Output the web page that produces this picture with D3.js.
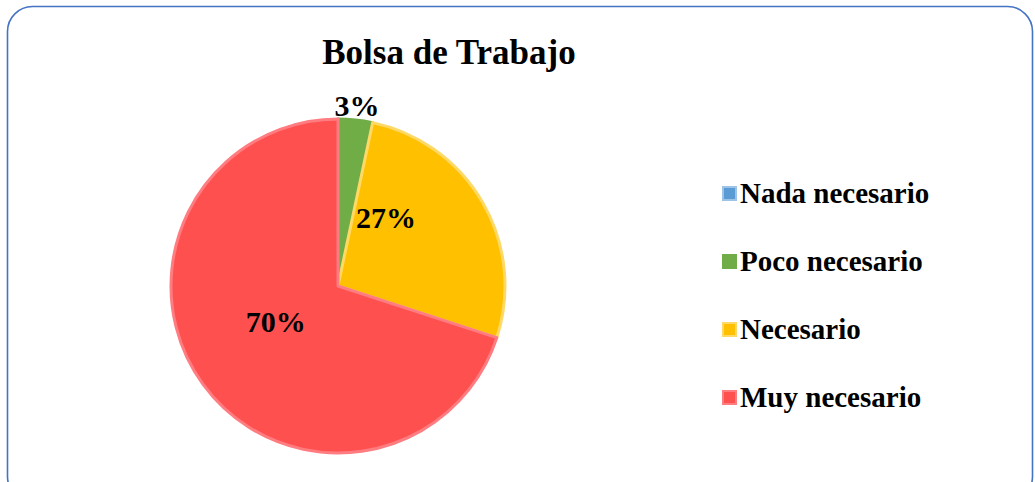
<!DOCTYPE html>
<html>
<head>
<meta charset="utf-8">
<script src="https://cdn.jsdelivr.net/npm/d3@7/dist/d3.min.js"></script>
<style>
  html, body { margin: 0; padding: 0; background: #fff; }
  svg { display: block; }
  text { font-family: "Liberation Serif", "Times New Roman", serif; font-weight: bold; fill: #000; }
</style>
</head>
<body>
<svg id="chart" width="1035" height="482"></svg>
<script>
const title = "Bolsa de Trabajo";
const categories = ["Nada necesario", "Poco necesario", "Necesario", "Muy necesario"];
const values = [0, 3.33, 26.67, 70];
const labels = ["", "3%", "27%", "70%"];
const colors = ["#5B9BD5", "#70AD47", "#FFC000", "#FF5050"];
const strokeColors = ["#9DC3E6", "#70AD47", "#FFD966", "#FF7C80"];

// label placement: fraction along the slice angle and radius fraction
const labelAngleFrac = [0.5, 0.5, 0.24, 0.524];
const labelRadiusFrac = [0.5, 1.085, 0.5, 0.43];

const svg = d3.select("#chart");

// border
svg.append("rect")
  .attr("x", 7.5).attr("y", 6.5)
  .attr("width", 1025).attr("height", 495)
  .attr("rx", 25).attr("ry", 25)
  .attr("fill", "#fff")
  .attr("stroke", "#4472C4")
  .attr("stroke-width", 1.6);

// title
svg.append("text")
  .attr("x", 449).attr("y", 52)
  .attr("text-anchor", "middle")
  .attr("dominant-baseline", "central")
  .style("font-size", "35px")
  .text(title);

const cx = 338, cy = 286, R = 167;
const pie = d3.pie().sort(null).value(d => d)(values);
const arc = d3.arc().innerRadius(0).outerRadius(R);

const g = svg.append("g").attr("transform", `translate(${cx},${cy})`);
g.selectAll("path")
  .data(pie)
  .join("path")
  .attr("d", arc)
  .attr("fill", (d, i) => colors[i])
  .attr("stroke", (d, i) => strokeColors[i])
  .attr("stroke-width", 3)
  .attr("stroke-linejoin", "round");

g.selectAll("text.lbl")
  .data(pie)
  .join("text")
  .attr("class", "lbl")
  .attr("text-anchor", "middle")
  .attr("dominant-baseline", "central")
  .style("font-size", "30px")
  .attr("x", (d, i) => {
    const a = d.startAngle + (d.endAngle - d.startAngle) * labelAngleFrac[i];
    return Math.sin(a) * R * labelRadiusFrac[i];
  })
  .attr("y", (d, i) => {
    const a = d.startAngle + (d.endAngle - d.startAngle) * labelAngleFrac[i];
    return -Math.cos(a) * R * labelRadiusFrac[i];
  })
  .text((d, i) => labels[i]);

// legend
const legendY = d3.scalePoint().domain(categories).range([193, 397]);
const lg = svg.append("g");
const items = lg.selectAll("g").data(categories).join("g")
  .attr("transform", d => `translate(722,${legendY(d)})`);
items.append("rect")
  .attr("x", 1).attr("y", -6)
  .attr("width", 13).attr("height", 13)
  .attr("fill", (d, i) => colors[i])
  .attr("stroke", (d, i) => strokeColors[i])
  .attr("stroke-width", 2);
items.append("text")
  .attr("x", 18).attr("y", 0)
  .attr("dominant-baseline", "central")
  .style("font-size", "29px")
  .text(d => d);
</script>
</body>
</html>
